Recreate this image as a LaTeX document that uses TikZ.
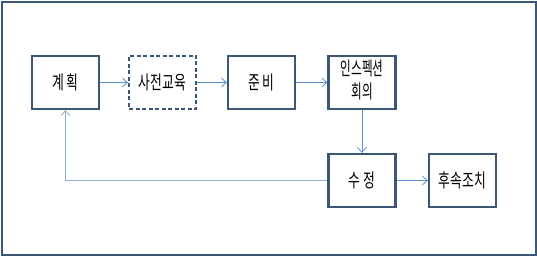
\documentclass[tikz,border=0pt]{standalone}
\usepackage{fontspec}
\setmainfont{Noto Sans CJK KR}
\usetikzlibrary{arrows.meta}
\definecolor{boxc}{HTML}{3B5775}
\definecolor{arrc}{HTML}{5B8FD0}
\definecolor{fbc}{HTML}{8EAED6}
\newcommand{\tallt}[2][0.95]{\scalebox{#1}[1.4]{#2}}
\begin{document}
\begin{tikzpicture}[x=1pt,y=-1pt,
  stepbox/.style={draw=boxc,line width=2.2pt,minimum width=67pt,minimum height=53pt,inner sep=1pt,align=center,font=\fontsize{13.5}{16}\selectfont,text=black},
  conn/.style={draw=arrc,line width=0.8pt,-{Straight Barb[length=5pt,width=9pt]}}]
\useasboundingbox (0,0) rectangle (537,256);
\draw[boxc,line width=2pt] (1.5,2) rectangle (535.5,254.5);
\node[stepbox] (plan) at (65.5,82.5) {\tallt{계 획}};
\node[stepbox,dashed,dash pattern=on 4pt off 2.5pt] (edu) at (162.5,82.5) {\tallt{사전교육}};
\node[stepbox] (prep) at (261.5,82.5) {\tallt{준 비}};
\node[stepbox] (insp) at (362,82.5) {\tallt[0.86]{\setlength{\tabcolsep}{0pt}\begin{tabular}{c}인스펙션\\회의\end{tabular}}};
\node[stepbox] (fix) at (362,180.5) {\tallt{수 정}};
\node[stepbox] (follow) at (462.5,180.5) {\tallt{후속조치}};
\draw[conn] (plan) -- (edu);
\draw[conn] (edu) -- (prep);
\draw[conn] (prep) -- (insp);
\draw[conn] (insp) -- (fix);
\draw[conn] (fix) -- (follow);
\draw[conn,draw=fbc] (fix.west) -- (plan.south |- fix.west) -- (plan.south);
\end{tikzpicture}
\end{document}
